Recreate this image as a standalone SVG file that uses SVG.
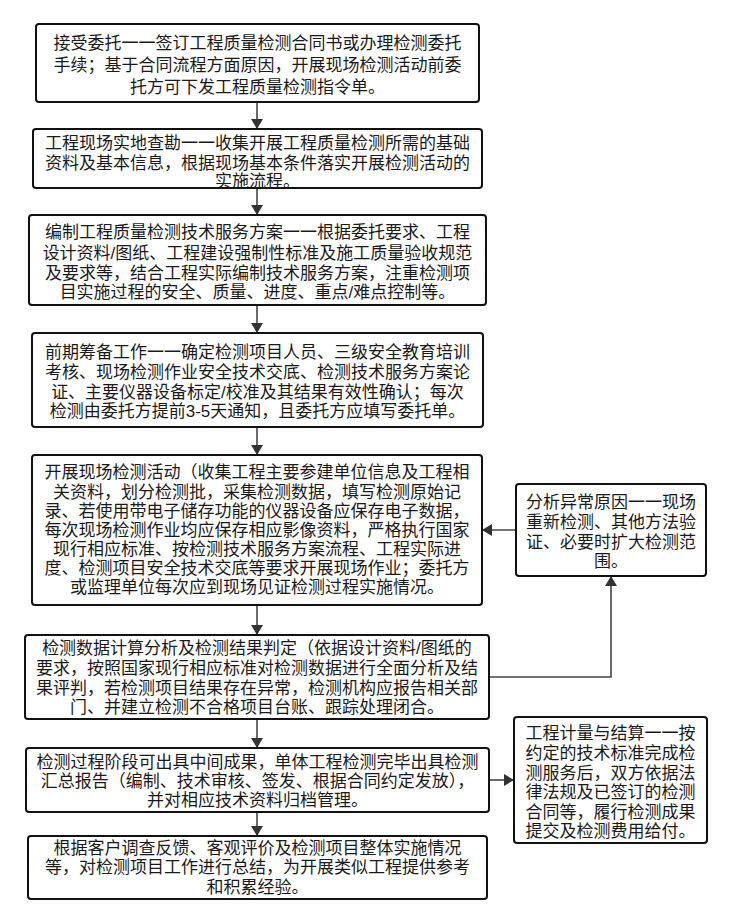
<svg xmlns="http://www.w3.org/2000/svg" width="732" height="924" viewBox="0 0 732 924">
<defs>
<style>
.box{fill:#fff;stroke:#111;stroke-width:2;}
.t{font-family:"Liberation Sans","Noto Sans CJK SC",sans-serif;font-size:17px;fill:#1a1a1a;text-anchor:middle;}
.c{fill:none;stroke:#444;stroke-width:1.6;}
</style>
<marker id="ah" viewBox="0 0 10 12" refX="10" refY="6" markerWidth="10" markerHeight="12" markerUnits="userSpaceOnUse" orient="auto">
<path d="M0,0 L10,6 L0,12 Z" fill="#333"/>
</marker>
</defs>
<rect width="732" height="924" fill="#fff"/>
<g id="connectors">
<line class="c" x1="257" y1="102" x2="257" y2="129" marker-end="url(#ah)"/>
<line class="c" x1="257" y1="188" x2="257" y2="215" marker-end="url(#ah)"/>
<line class="c" x1="257" y1="305" x2="257" y2="333" marker-end="url(#ah)"/>
<line class="c" x1="257" y1="427" x2="257" y2="455" marker-end="url(#ah)"/>
<line class="c" x1="257" y1="605" x2="257" y2="635" marker-end="url(#ah)"/>
<line class="c" x1="257" y1="719" x2="257" y2="748" marker-end="url(#ah)"/>
<line class="c" x1="257" y1="812" x2="257" y2="836" marker-end="url(#ah)"/>
<polyline class="c" points="489,677 611,677 611,576" marker-end="url(#ah)"/>
<line class="c" x1="516" y1="530" x2="482" y2="530" marker-end="url(#ah)"/>
<line class="c" x1="489" y1="780" x2="514" y2="780" marker-end="url(#ah)"/>
</g>
<g id="n1">
<rect class="box" x="36" y="24" width="443" height="78" rx="3"/>
<text class="t"><tspan x="257.5" y="49">接受委托一一签订工程质量检测合同书或办理检测委托</tspan><tspan x="257.5" y="71">手续；基于合同流程方面原因，开展现场检测活动前委</tspan><tspan x="257.5" y="93">托方可下发工程质量检测指令单。</tspan></text>
</g>
<g id="n2">
<rect class="box" x="33" y="129" width="449" height="59" rx="3"/>
<text class="t"><tspan x="257.5" y="149">工程现场实地查勘一一收集开展工程质量检测所需的基础</tspan><tspan x="257.5" y="169">资料及基本信息，根据现场基本条件落实开展检测活动的</tspan><tspan x="257.5" y="187">实施流程。</tspan></text>
</g>
<g id="n3">
<rect class="box" x="29" y="215" width="457" height="90" rx="3"/>
<text class="t"><tspan x="257.5" y="238">编制工程质量检测技术服务方案一一根据委托要求、工程</tspan><tspan x="257.5" y="259">设计资料/图纸、工程建设强制性标准及施工质量验收规范</tspan><tspan x="257.5" y="279">及要求等，结合工程实际编制技术服务方案，注重检测项</tspan><tspan x="257.5" y="298">目实施过程的安全、质量、进度、重点/难点控制等。</tspan></text>
</g>
<g id="n4">
<rect class="box" x="32" y="333" width="451" height="94" rx="3"/>
<text class="t"><tspan x="257.5" y="358">前期筹备工作一一确定检测项目人员、三级安全教育培训</tspan><tspan x="257.5" y="378">考核、现场检测作业安全技术交底、检测技术服务方案论</tspan><tspan x="257.5" y="398">证、主要仪器设备标定/校准及其结果有效性确认；每次</tspan><tspan x="257.5" y="417">检测由委托方提前3-5天通知，且委托方应填写委托单。</tspan></text>
</g>
<g id="n5">
<rect class="box" x="32" y="455" width="450" height="150" rx="3"/>
<text class="t"><tspan x="257" y="478">开展现场检测活动（收集工程主要参建单位信息及工程相</tspan><tspan x="257" y="498">关资料，划分检测批，采集检测数据，填写检测原始记</tspan><tspan x="257" y="517">录、若使用带电子储存功能的仪器设备应保存电子数据，</tspan><tspan x="257" y="536">每次现场检测作业均应保存相应影像资料，严格执行国家</tspan><tspan x="257" y="555">现行相应标准、按检测技术服务方案流程、工程实际进</tspan><tspan x="257" y="574">度、检测项目安全技术交底等要求开展现场作业；委托方</tspan><tspan x="257" y="593">或监理单位每次应到现场见证检测过程实施情况。</tspan></text>
</g>
<g id="n6">
<rect class="box" x="25" y="635" width="464" height="84" rx="3"/>
<text class="t"><tspan x="257" y="654">检测数据计算分析及检测结果判定（依据设计资料/图纸的</tspan><tspan x="257" y="674">要求，按照国家现行相应标准对检测数据进行全面分析及结</tspan><tspan x="257" y="694">果评判，若检测项目结果存在异常，检测机构应报告相关部</tspan><tspan x="257" y="713">门、并建立检测不合格项目台账、跟踪处理闭合。</tspan></text>
</g>
<g id="n7">
<rect class="box" x="26" y="748" width="463" height="64" rx="3"/>
<text class="t"><tspan x="257.5" y="768">检测过程阶段可出具中间成果，单体工程检测完毕出具检测</tspan><tspan x="257.5" y="787">汇总报告（编制、技术审核、签发、根据合同约定发放），</tspan><tspan x="257.5" y="806">并对相应技术资料归档管理。</tspan></text>
</g>
<g id="n8">
<rect class="box" x="28" y="836" width="459" height="63" rx="3"/>
<text class="t"><tspan x="257.5" y="854">根据客户调查反馈、客观评价及检测项目整体实施情况</tspan><tspan x="257.5" y="873">等，对检测项目工作进行总结，为开展类似工程提供参考</tspan><tspan x="257.5" y="893">和积累经验。</tspan></text>
</g>
<g id="nA">
<rect class="box" x="516" y="484" width="190" height="92" rx="3"/>
<text class="t"><tspan x="611" y="508">分析异常原因一一现场</tspan><tspan x="611" y="528">重新检测、其他方法验</tspan><tspan x="611" y="548">证、必要时扩大检测范</tspan><tspan x="611" y="567">围。</tspan></text>
</g>
<g id="nB">
<rect class="box" x="514" y="717" width="193" height="126" rx="3"/>
<text class="t"><tspan x="610.5" y="739">工程计量与结算一一按</tspan><tspan x="610.5" y="759">约定的技术标准完成检</tspan><tspan x="610.5" y="779">测服务后，双方依据法</tspan><tspan x="610.5" y="798">律法规及已签订的检测</tspan><tspan x="610.5" y="818">合同等，履行检测成果</tspan><tspan x="610.5" y="837">提交及检测费用给付。</tspan></text>
</g>
</svg>
